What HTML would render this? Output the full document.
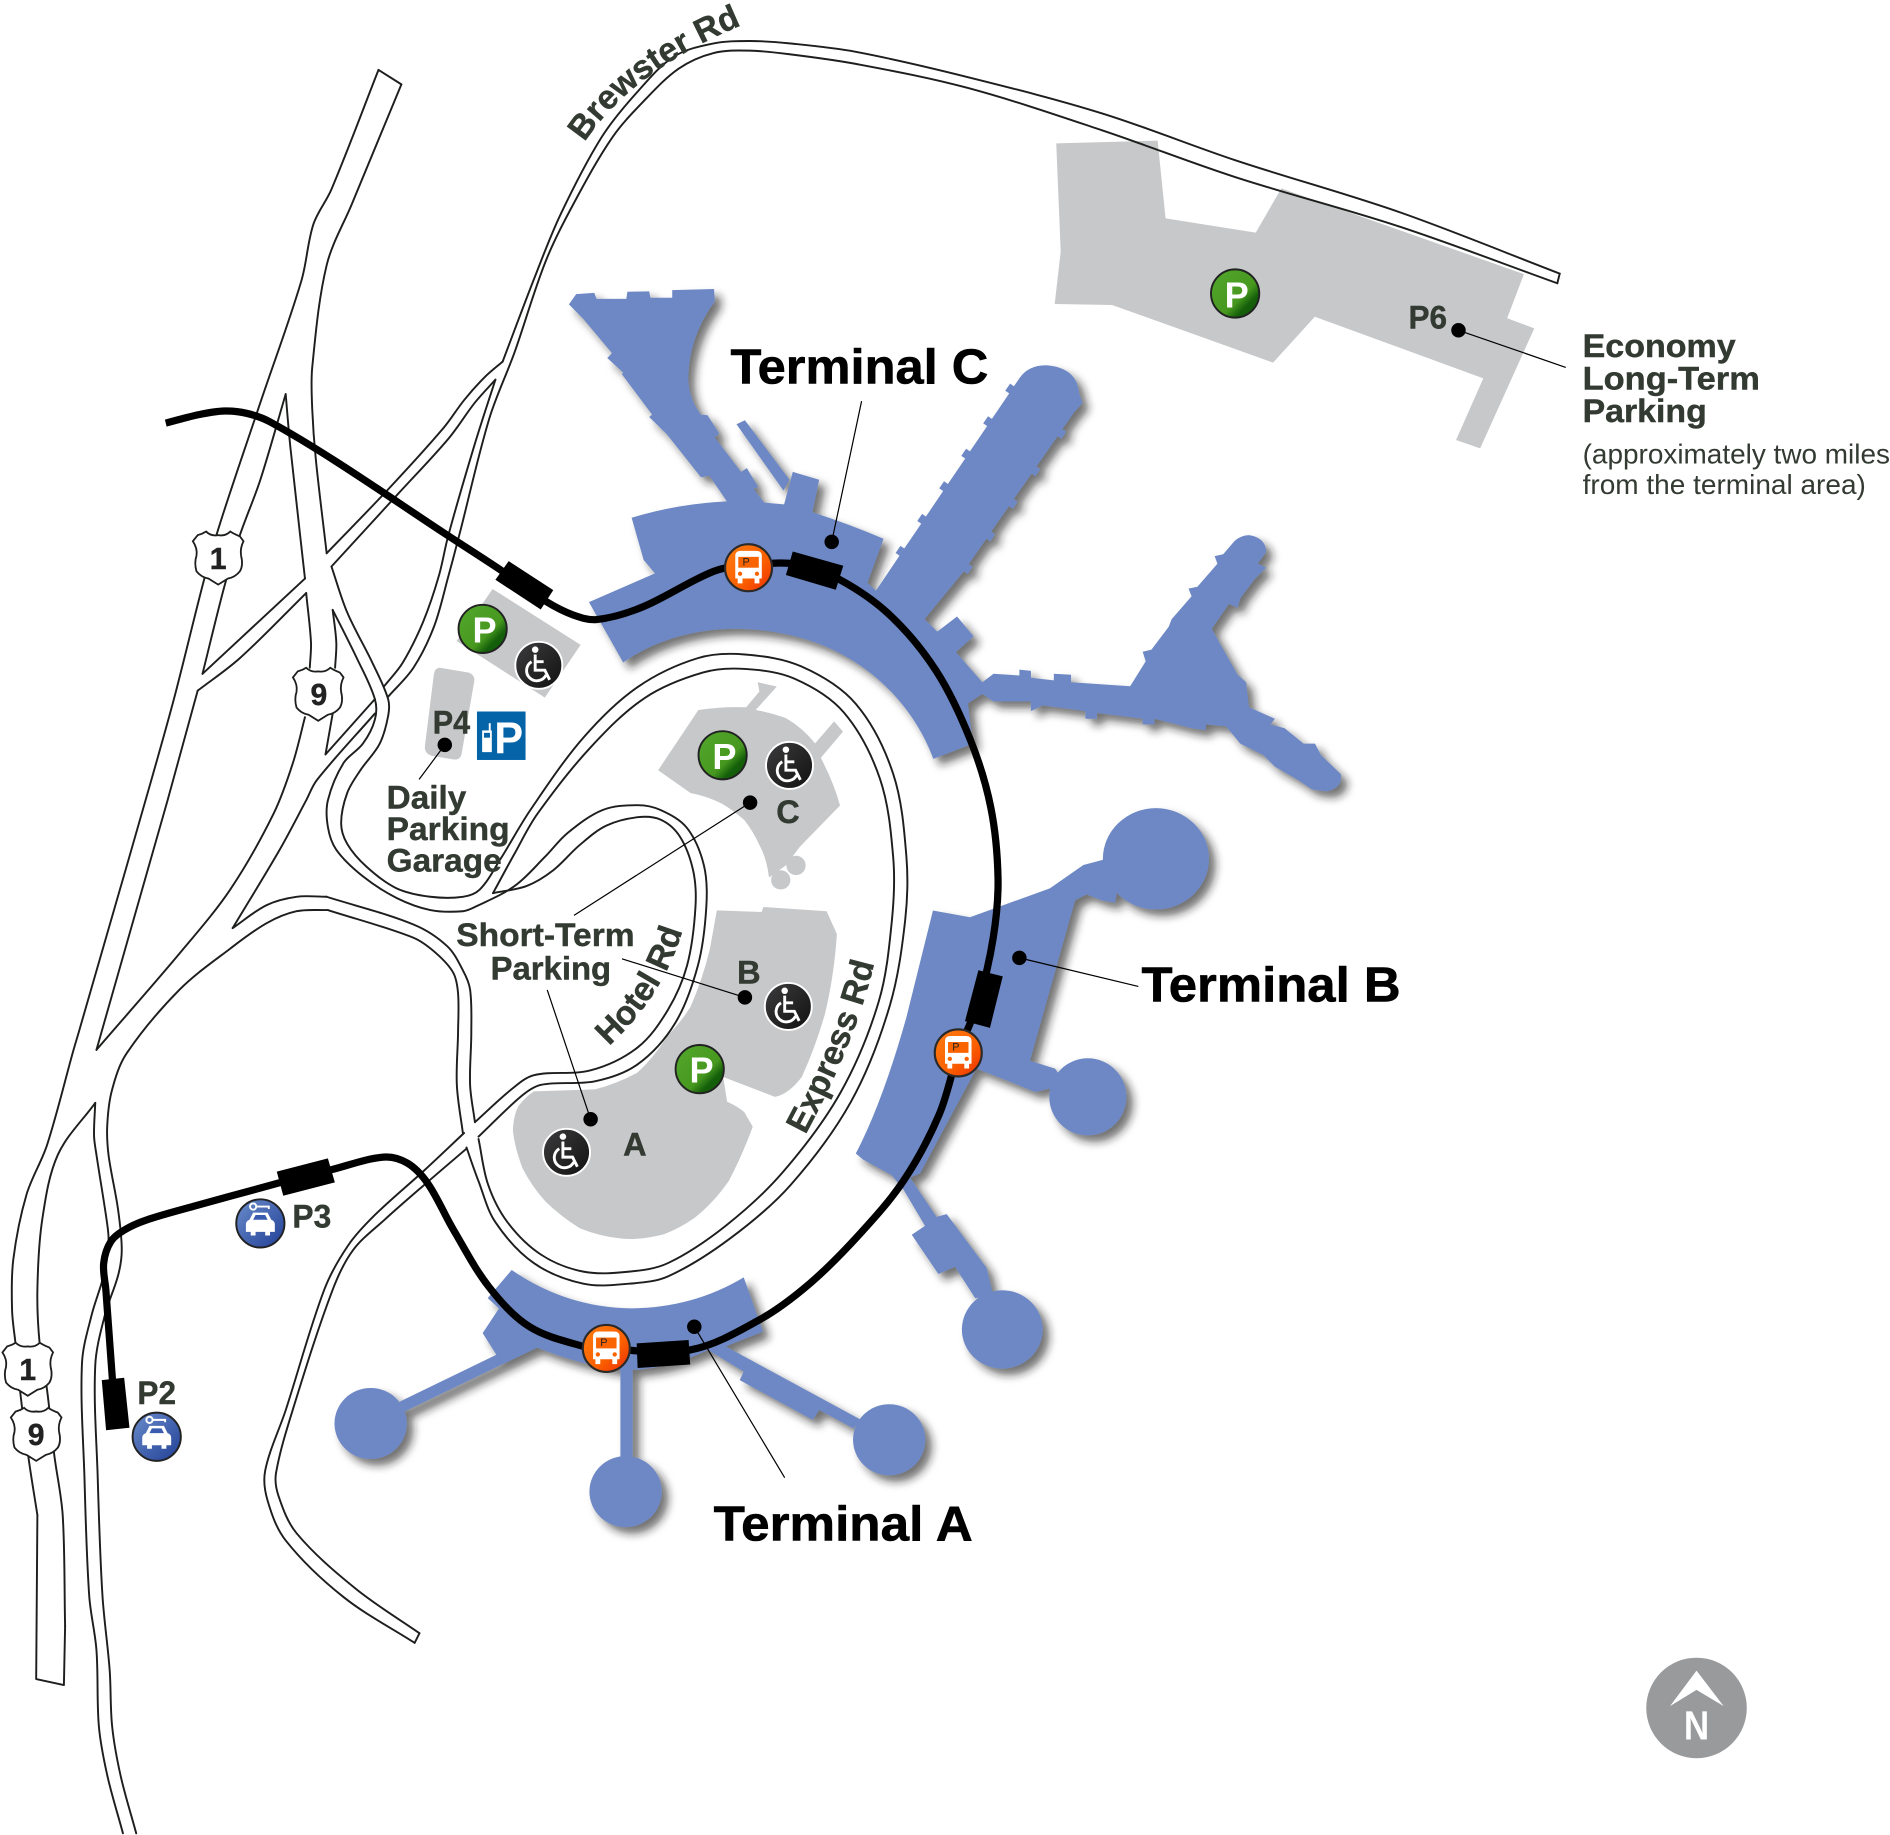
<!DOCTYPE html>
<html><head><meta charset="utf-8"><title>Airport map</title>
<style>
html,body{margin:0;padding:0;background:#fff}
svg{display:block}
text{font-family:"Liberation Sans",sans-serif}
.b{font-weight:bold;fill:#323a32;stroke:#323a32;stroke-width:.35px}
.t{font-weight:bold;fill:#000;font-size:41px;stroke:#000;stroke-width:.5px}
.s,.r{fill:none;stroke:#1c1f1c;stroke-width:1.6;stroke-linejoin:round;stroke-linecap:round}
.l{stroke:#000;stroke-width:1;fill:none}
.pt{font-weight:bold;fill:#fff;font-size:30px;text-anchor:middle}
.wh{fill:none;stroke:#fff;stroke-width:2.4}
</style></head><body>
<svg xmlns="http://www.w3.org/2000/svg" width="1890" height="1835" viewBox="0 0 1568 1522.4">
<defs>
<filter id="sh" x="-10%" y="-10%" width="120%" height="120%"><feDropShadow dx="5.5" dy="5.5" stdDeviation="3.6" flood-color="#222" flood-opacity=".62"/></filter>
<linearGradient id="gg" x1="0" y1="0" x2="1" y2="1"><stop offset="0" stop-color="#52a82c"/><stop offset=".6" stop-color="#47981f"/><stop offset=".75" stop-color="#15600a"/><stop offset="1" stop-color="#125405"/></linearGradient>
<linearGradient id="og" x1="0" y1="0" x2="1" y2="1"><stop offset="0" stop-color="#ff7d12"/><stop offset=".6" stop-color="#fa5f00"/><stop offset="1" stop-color="#ee2c00"/></linearGradient>
<linearGradient id="kg" x1="0" y1="0" x2="1" y2="1"><stop offset="0" stop-color="#3c3c3e"/><stop offset="1" stop-color="#111"/></linearGradient>
<linearGradient id="cg" x1="0" y1="0" x2="1" y2="1"><stop offset="0" stop-color="#6a8ccb"/><stop offset="1" stop-color="#213f96"/></linearGradient>
<g id="green"><circle r="20" fill="url(#gg)" stroke="#222" stroke-width="1.6"/></g>
<g id="chair"><circle r="19.5" fill="url(#kg)" stroke="#fff" stroke-width="1.6"/><circle cx="-3" cy="-13" r="2.7" fill="#fff"/><path class="wh" d="M-3,-9V4H5L9,12M-3,-3H4M-6,-3A8.5,8.5 0 1 0 6,8"/></g>
<g id="bus"><circle r="19.5" fill="url(#og)" stroke="#2a2a2a" stroke-width="1.8"/><path d="M-11,-10Q-11,-14 -6,-14H6Q11,-14 11,-10V9H9V13H5V9H-5V13H-9V9H-11Z" fill="#fff"/><rect x="-8.5" y="-9" width="17" height="9" fill="#f96400"/><circle cx="-7" cy="5" r="1.8" fill="#f96400"/><circle cx="7" cy="5" r="1.8" fill="#f96400"/></g>
<g id="car"><circle r="20" fill="url(#cg)" stroke="#222" stroke-width="1.6"/><path d="M-12,7V1Q-12,-2 -9,-3L-6,-9H6L9,-3Q12,-2 12,1V7H8V10H4V7H-4V10H-8V7Z" fill="#fff"/><path d="M-4,-7H4L6,-3H-6Z" fill="#3a5cb0"/><circle cx="-6" cy="-14" r="2.6" fill="none" stroke="#fff" stroke-width="1.6"/><path d="M-4,-14H7V-12" fill="none" stroke="#fff" stroke-width="1.6"/></g>
<path id="shield" d="M-17,-19Q-13,-20 -10,-22Q-6,-18 0,-19Q6,-18 10,-22Q13,-20 18,-18L21,-14Q18,-8 19,-2Q21,6 18,11Q14,16 8,17L0,22L-8,17Q-14,16 -18,11Q-20,4 -18,-2Q-17,-8 -21,-14Z" fill="#fff" stroke="#1c1f1c" stroke-width="1.5"/>
<path id="pBrew" d="M485,118 Q523.5,59.5 615,21"/>
<path id="pHotel" d="M505,868 Q552,825 568,766"/>
<path id="pExp" d="M668,942 Q712,860 727,792"/>
</defs>

<!-- grey parking lots -->
<g fill="#c7c8ca">
<polygon points="876.3,119 960.4,116.7 967,181.2 1041.8,193 1063,156.3 1264.3,227.4 1250.4,264 1272.9,272.4 1228,372 1208,365 1230.6,313.9 1090.8,262.8 1056.2,300.9 922.6,253 875,252.2 880,208.8"/>
<polygon points="408.7,488.7 481.7,535 452,578.8 378.8,531.8"/>
<path d="M365,554L389,558Q394,560 393.5,565L383,625Q382,631 376,630L358,627Q352,625 352.5,619L360,559Q361,554 365,554Z"/>
<path d="M546,639L579.4,589Q600,586 619,586.8L630,573.7 628.6,566 644.5,569.6 627,589Q642,592 652.4,596Q666,604 676.2,616.7L692,598.5 699.4,607 681,628.7Q692,650 696.9,668.3L663.5,702.6 652,718 638,728Q636,712 630,701Q625,690 617.5,680.3Q608,672 598.5,666.5Q585,660 573,658Z"/>
<circle cx="660.4" cy="718" r="8"/><circle cx="647.7" cy="730" r="8"/>
<path d="M594.7,755.3L631.8,756.6 633.4,752.5 685.8,756 694.3,775Q692,810 684.2,842Q676,870 665.2,893.5Q654,908 642.9,910L600,893.5 603.2,914Q612,918 617.5,922.7L624.5,934.8Q616,958 604.8,979.5Q592,998 576.2,1010.4Q564,1019 550.8,1024Q532,1029 516,1027.6Q498,1026 481,1019Q465,1009 452.4,996.7Q441,984 433.4,969Q427,952 425.5,938Q426,925 430.2,917.6Q436,910 442.9,905.5L493.7,903.8Q512,899 528.6,890Q542,878 554,859Q565,848 573,835Q583,812 589,787Z"/>
</g>

<!-- road edge lines -->
<g id="roads">
<polyline class="s" points="314,58 275,157 260,186 250,233 216,334 182,436 169,482 144,581 121,663 66,854 61,871 39,950 22,991 11,1045 10,1087 13,1116 17,1157 24,1212 31,1257"/>
<polyline class="r" points="31,1257 30,1393 53,1398 54,1349"/>
<polyline class="r" points="314,58 333,70"/>
<polyline class="s" points="333,70 292,169 271,220 259,305 259,339 262,381 271,459"/>
<polyline class="s" points="271,459 322,406 368,355 385,332 402,313 417,300"/>
<polyline class="s" points="417,300 444,229 465,178 499,114 529,76 559,47 592,36 622,34 655,36 710,43 803,64 914,94 1025,133 1161,176 1294,227"/>
<polyline class="r" points="1294,227 1292,235"/>
<polyline class="s" points="1292,235 1161,188 1025,147 914,108 803,73 710,53 655,45 622,42 592,44 563,57 533,85 508,114 478,165 453,216 427,292 406,347 381,444 372,478 360,520 343,554 322,578"/>
<polyline class="s" points="411,315 394,368 372,444 364,478 351,516 334,550 319,569"/>
<polyline class="s" points="411,315 394,334 372,364 330,410 275,470"/>
<polyline class="s" points="237,327 216,398 199,444 186,487 168,559"/>
<polyline class="r" points="168,559 253,480"/>
<polyline class="s" points="237,327 241,372 253,480"/>
<polyline class="s" points="164,573 199,546 254,492"/>
<polyline class="s" points="254,492 258,533 257,554"/>
<polyline class="r" points="164,573 139,664 80,871"/>
<polyline class="s" points="80,871 149,791 191,738 227,675 243,633 253,595"/>
<polyline class="s" points="276,506 279,533 278,554"/>
<polyline class="r" points="276,592 270,626 311,580"/>
<polyline class="s" points="275,470 288,508 309,550 322,580 322,594 315,617 299,639 288,658 283,683 288,700 304,719 329,737 357,744 384,744 398,738 415,713 440,672 484,612 529,570 579,546 618,543 665,553 710,584 741,642 752,711 751,763 738,835 706,914 656,983 605,1028 554,1059 522,1065 484,1065 443,1048 411,1014 397,980 387,952"/>
<polyline class="s" points="276,506 296,546 311,580 311,597 301,617 285,633 272,664 272,686 279,705 301,727 329,745 357,755 384,756 395,752 427,735 452,711 471,691 500,672 529,668 548,672 570,687 584,718 586,752 579,801 560,849 529,883 494,897 449,900 433,909 397,943"/>
<polyline class="s" points="409,741 427,708 446,675 490,620 535,579 583,558 618,555 659,563 700,591 730,646 741,711 740,763 729,831 697,907 649,973 602,1017 554,1048 522,1055 484,1055 449,1041 421,1014 405,983 397,945"/>
<polyline class="s" points="409,741 437,735 459,722 481,701 503,685 529,678 548,680 564,694 575,722 577,752 570,801 554,838 529,869 490,888 443,892 424,904 394,931"/>
<polyline class="s" points="193,770 232,705 254,664 263,647 311,592"/>
<polyline class="s" points="193,770 221,751 246,744 271,744"/>
<polyline class="s" points="271,744 343,767 371,785 384,805 390,821 391,857 390,900 394,931"/>
<polyline class="s" points="272,755 343,778 362,791 376,807 380,824 380,857 379,900 384,940"/>
<polyline class="s" points="113,1521 100,1473 93,1432 91,1386 85,1324 81,1224 79,1133 87,1091 98,1058 101,1037 98,1004 90,958 89,933 93,904 105,874 149,821 191,787 221,766 246,756 272,755"/>
<polyline class="s" points="102,1521 89,1473 82,1432 80,1369 74,1324 70,1224 68,1131 76,1091 86,1058 90,1031 89,1016 80,958 78,942 79,915"/>
<polyline class="s" points="79,915 48,958 35,1012 31,1070 33,1116 39,1153 45,1207 52,1257 54,1349"/>
<polyline class="s" points="385,940 352,971 311,1008 289,1033 269,1070 237,1170 220,1220 222,1245 237,1278 285,1325 344,1363"/>
<polyline class="s" points="387,953 352,983 319,1012 293,1037 276,1070 244,1166 229,1222 231,1241 246,1272 295,1318 348,1355"/>
<polyline class="r" points="344,1363 348,1355"/>
</g>

<!-- terminals -->
<g fill="#6d88c4" filter="url(#sh)">
<!-- Terminal C -->
<path d="M472,252.5L478,244 493,243 495,248 519.6,248 520.5,242 538.6,241.7 539.6,247 557.7,247 557.7,240.7 592.4,239.8 593,250Q571,280 571,315Q572,332 581.5,344L587,344.5 596.7,359.8 593,363 614.8,391.5 619.6,388.4 629,404 625.3,405.8 634,417 650.5,418.5 657.7,391.5 679.6,398 674,425Q705,435 733,447L719.6,483.6 726.7,490 746.3,461 743,458.8 747,452.9 750.2,455.1 764.3,434.4 761,432.2 765,426.3 768.2,428.5 782.5,407.4 779.2,405.2 783.2,399.3 786.4,401.5 800.8,380.4 797.5,378.2 801.5,372.3 804.7,374.5 819,353.4 815.7,351.2 819.7,345.3 822.9,347.5 837.3,326.4 834,324.2 838,318.3 841.2,320.5 845.8,313.7Q853,303 868,303Q893,305 895,325L898,334.4 891,342.3 881.3,356 884.6,358.2 880.6,364.1 877.4,361.9 859.8,387 863.1,389.2 859.1,395.1 855.9,392.9 841,414 844.3,416.2 840.3,422.1 837.1,419.9 822.3,441 825.6,443.2 821.6,449.1 818.4,446.9 803.6,468 806.9,470.2 802.9,476.1 799.7,473.9 767,513.7 777.6,524 794,511.5 807.7,528 793,541 815,566 824.3,559 845.7,560.4 845.7,555.6 855.3,556.6 855.3,562.3 874.3,564.5 874.3,559 888.6,559.8 888.6,566 937.6,569.3 950.5,548.7 948,540.7 955.3,539 969.6,520 972,513.8 988.6,494.7 986,488.4 993.4,486.8 1010,467.7 1007.7,461.4 1014.8,459.8 1024.3,448.7Q1030,444 1036.2,444Q1050,446 1050.5,458L1043.4,467.7 1050.5,470.9 1041,480.4 1029,496.3 1026.7,504.2 1019.6,501 1005.3,521.7 1026.7,559.8 1033.8,566 1036.2,586.8 1057.7,596.3 1054,601 1065.8,604.2 1081.5,616.9 1091,616.9 1095.8,626.4 1112.4,642.3Q1114,654 1100.5,656.6L1088.6,655 1076.7,647 1057.7,636 1048,626.4 1029,616.9 1017.2,602.6 1000.5,601 1000.5,605.8 988.6,604.2 957.7,596.3 957.7,601 948,601 948,596.3 910,591.5 910,596.3 900.5,596.3 900.5,590 864.8,585.2 855.3,590 855.3,582 824.3,582 815,575.7 803,583.6 807,617 774.3,629.6C760,590 715,525 615,521.7C580,521 545,530 517,549.6L488.6,499.5 543.4,475.7 534,464.6 524,429.6Q562,418 603,416L588.6,394.7 581.5,396 553,360 538.6,346 541,344 516,310.6 517,309 503.8,297 507.7,293 483.8,264.5Z"/>
<polygon points="611,352 618,348.7 655,398 650,407"/>
<!-- Terminal B -->
<path d="M774,755.4L804.7,761 871,737 898.8,717.6 920,712 926.4,742 925,749 914,747 901.5,742 891.9,747 854.5,880 875.3,886.6 885,900 858.7,906 839.3,898 810,886.6 763.3,973.5 755,977 777,1009.6 785.4,1007.3 818.6,1052 824,1075 809,1077 792.3,1051 778.5,1057 756.4,1024.4 767.4,1017 749.4,986.7 739.8,975 716,962 710,957Q732,915 752,844Z"/>
<ellipse cx="959" cy="712.5" rx="44" ry="42"/>
<circle cx="902.5" cy="910" r="32"/>
<ellipse cx="831.5" cy="1103" rx="33.5" ry="32.5"/>
<!-- Terminal A -->
<path d="M424.5,1053.7Q470,1085 524,1085.5Q575,1085 617,1059.8L633,1104.8 602,1117 714.4,1178 708,1185 679.7,1169.8 674.2,1178 613.7,1145 617,1138 587.5,1120Q555,1135 524.8,1136.6V1215H514.7V1136.6Q480,1132 445.7,1118L335.7,1171 331.4,1163 411.8,1124 400.4,1106 414,1085.5 404.6,1077Z"/>
<ellipse cx="307.5" cy="1181" rx="30" ry="29.5"/>
<ellipse cx="519" cy="1237.5" rx="30" ry="29.5"/>
<ellipse cx="737.7" cy="1194.5" rx="30" ry="29.5"/>
</g>

<!-- leader lines & dots -->
<g class="l">
<line x1="690" y1="449.6" x2="714.8" y2="332.8"/>
<line x1="845.7" y1="794.7" x2="944.4" y2="818.4"/>
<line x1="576" y1="1100.7" x2="651" y2="1226"/>
<line x1="1210" y1="274" x2="1299" y2="304.8"/>
<line x1="622.3" y1="665.9" x2="476.2" y2="759.4"/>
<line x1="618" y1="827.5" x2="516" y2="795.5"/>
<line x1="490" y1="928.6" x2="454" y2="821.3"/>
<line x1="369" y1="618" x2="347.7" y2="646.6"/>
</g>
<g fill="#000">
<circle cx="690" cy="449.6" r="6"/><circle cx="845.7" cy="794.7" r="6"/><circle cx="576" cy="1100.7" r="6"/>
<circle cx="1210" cy="274" r="6"/><circle cx="622.3" cy="665.9" r="6"/><circle cx="618" cy="827.5" r="6"/>
<circle cx="490" cy="928.6" r="6"/><circle cx="369" cy="618" r="6"/>
</g>

<!-- train line -->
<polyline class="s" style="stroke:#000;stroke-width:6;stroke-linecap:butt" points="137.5,351 165,344 186,341 205,343 224,350 279,383 368,442 417,474 453,499 475,510 495,514 533,503.6 592,474 621,469 660,468 695.8,480.4 738.6,510.6 776.7,556.6 805,613.7 822,670 828,729 824,778 812,830 795,873.5 779,925 750,979 714,1023 672,1064.7 630,1095 572.6,1120 503,1119 483.8,1117 439.3,1100.7 405.5,1067.5 376,1020 355,982 338,965 318,960 274,970.7 233,981 160,1001 122,1012 104,1020 92,1030 86,1048 87.8,1070 93.3,1145"/>
<g fill="#000">
<polygon points="422,465.5 459,489.6 448.6,505.7 411,481"/>
<polygon points="657.7,457.6 699.6,469.4 693.4,489.3 652,477"/>
<polygon points="811.7,805 831.9,810 821.3,852.8 800.6,847.2"/>
<polygon points="528.2,1114.5 571.3,1111.7 572.6,1132 529,1135"/>
<polygon points="229.6,972 272,961 277.8,981 235,992"/>
<polygon points="84.4,1145 103,1143 107.4,1184.5 88,1186.6"/>
</g>

<!-- shields -->
<use href="#shield" transform="translate(181,463)"/>
<use href="#shield" transform="translate(264,576)"/>
<use href="#shield" transform="translate(23,1136)"/>
<use href="#shield" transform="translate(30,1190)"/>
<g class="b" style="fill:#222;stroke:#222;font-size:25px;text-anchor:middle">
<text x="181" y="472">1</text><text x="264.5" y="585">9</text><text x="23" y="1145">1</text><text x="30" y="1199">9</text>
</g>

<!-- icons -->
<use href="#green" x="400.4" y="521.8"/><text class="pt" x="402" y="533">P</text>
<use href="#green" x="599.5" y="626.6"/><text class="pt" x="601" y="638">P</text>
<use href="#green" x="580.5" y="887"/><text class="pt" x="582" y="898">P</text>
<use href="#green" x="1024.7" y="243.5"/><text class="pt" x="1026" y="255">P</text>
<use href="#chair" x="447" y="552"/>
<use href="#chair" x="655" y="635"/>
<use href="#chair" x="654" y="835"/>
<use href="#chair" x="470" y="956"/>
<use href="#bus" x="621" y="471"/><text x="619" y="469" font-size="9" text-anchor="middle" fill="#222">P</text>
<use href="#bus" x="795" y="873.5"/><text x="793" y="871.5" font-size="9" text-anchor="middle" fill="#222">P</text>
<use href="#bus" x="503" y="1118.7"/><text x="501" y="1116.7" font-size="9" text-anchor="middle" fill="#222">P</text>
<use href="#car" x="216" y="1015"/>
<use href="#car" x="130" y="1192"/>
<rect x="395.7" y="590.3" width="40.3" height="40.2" fill="#0564a8"/>
<text x="410" y="625" font-size="37" font-weight="bold" fill="#fff" textLength="24" lengthAdjust="spacingAndGlyphs">P</text>
<rect x="400" y="606" width="8" height="18" fill="#fff"/><rect x="405.5" y="600" width="1.6" height="7" fill="#fff"/><rect x="401.5" y="608" width="5" height="4" fill="#0564a8"/>

<!-- labels -->
<text class="t" x="606" y="318" textLength="214" lengthAdjust="spacingAndGlyphs">Terminal C</text>
<text class="t" x="947" y="831" textLength="215" lengthAdjust="spacingAndGlyphs">Terminal B</text>
<text class="t" x="592" y="1278" textLength="215" lengthAdjust="spacingAndGlyphs">Terminal A</text>
<g class="b" style="font-size:27px">
<text x="1313" y="296" textLength="127" lengthAdjust="spacingAndGlyphs">Economy</text>
<text x="1313" y="323" textLength="147" lengthAdjust="spacingAndGlyphs">Long-Term</text>
<text x="1313" y="350" textLength="103" lengthAdjust="spacingAndGlyphs">Parking</text>
<text x="1168.5" y="272.5" textLength="32" lengthAdjust="spacingAndGlyphs">P6</text>
<text x="359" y="608.6" textLength="31" lengthAdjust="spacingAndGlyphs">P4</text>
<text x="320.8" y="670.6" textLength="66" lengthAdjust="spacingAndGlyphs">Daily</text>
<text x="320.8" y="696.8" textLength="102" lengthAdjust="spacingAndGlyphs">Parking</text>
<text x="320.8" y="723" textLength="95.4" lengthAdjust="spacingAndGlyphs">Garage</text>
<text x="378.5" y="785" textLength="148" lengthAdjust="spacingAndGlyphs">Short-Term</text>
<text x="407" y="812.7" textLength="100" lengthAdjust="spacingAndGlyphs">Parking</text>
<text x="644" y="682.7">C</text>
<text x="611.5" y="816">B</text>
<text x="517" y="958.8">A</text>
<text x="242.6" y="1018.4" textLength="32.2" lengthAdjust="spacingAndGlyphs">P3</text>
<text x="114" y="1165" textLength="32" lengthAdjust="spacingAndGlyphs">P2</text>
<text style="font-size:28px"><textPath href="#pBrew">Brewster Rd</textPath></text>
<text style="font-size:28px"><textPath href="#pHotel">Hotel Rd</textPath></text>
<text style="font-size:28px"><textPath href="#pExp">Express Rd</textPath></text>
</g>
<text x="1313" y="384.4" font-size="23" fill="#323a32" textLength="255" lengthAdjust="spacingAndGlyphs">(approximately two miles</text>
<text x="1313" y="410" font-size="23" fill="#323a32" textLength="235" lengthAdjust="spacingAndGlyphs">from the terminal area)</text>

<!-- north arrow -->
<circle cx="1407.5" cy="1417" r="41.7" fill="#999a9c"/>
<polygon points="1407.5,1386 1430,1415.5 1407.5,1402 1385.5,1415.5" fill="#fff"/>
<text x="1407.5" y="1443" font-size="34" font-weight="bold" fill="#fff" text-anchor="middle" textLength="21" lengthAdjust="spacingAndGlyphs">N</text>
</svg>
<script>
function uv(a,b){var x=b[0]-a[0],y=b[1]-a[1],m=Math.hypot(x,y)||1;return [x/m,y/m,m];}
document.querySelectorAll('polyline.s').forEach(function(e){
  var n=e.getAttribute('points').trim().split(/\s+/).map(function(a){return a.split(',').map(Number)});
  var d='M'+n[0];
  for(var i=0;i<n.length-1;i++){
    var a=n[i-1]||n[i],b=n[i],c=n[i+1],f=n[i+2]||c;
    var t0=uv(a,c),t1=uv(b,f),L=uv(b,c)[2]/3;
    d+='C'+(b[0]+t0[0]*L).toFixed(1)+','+(b[1]+t0[1]*L).toFixed(1)+' '+(c[0]-t1[0]*L).toFixed(1)+','+(c[1]-t1[1]*L).toFixed(1)+' '+c[0]+','+c[1];
  }
  var p=document.createElementNS('http://www.w3.org/2000/svg','path');
  p.setAttribute('d',d);p.setAttribute('class',e.getAttribute('class'));
  if(e.getAttribute('style'))p.setAttribute('style',e.getAttribute('style'));
  e.parentNode.replaceChild(p,e);
});
</script>
</body></html>
